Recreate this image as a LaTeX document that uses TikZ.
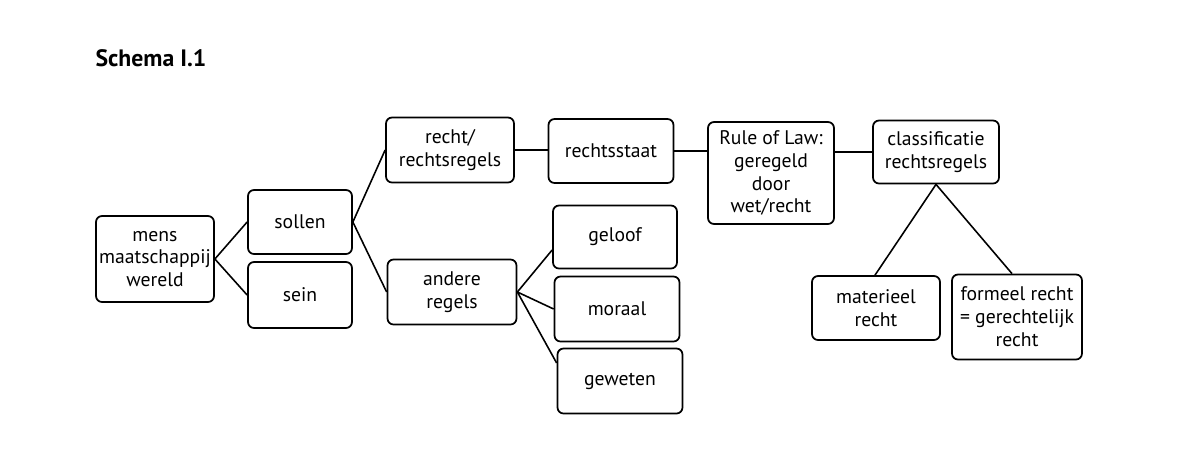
\documentclass[tikz,border=0pt]{standalone}
\usepackage{fontspec}
\setmainfont{PT Sans}
\usetikzlibrary{positioning}

\begin{document}
\begin{tikzpicture}[x=0.02cm, y=-0.02cm,
        box/.style={draw, rounded corners=0.12cm, line width=1pt, align=center, inner sep=1pt, font=\fontsize{11.2}{13}\selectfont},
        line/.style={line width=0.9pt}
    ]
    \useasboundingbox (0,0) rectangle (1200,451);
    \node[font=\bfseries\fontsize{13.5}{16}\selectfont] (title) at (151,58) {Schema I.1};

    \node[box, minimum width=2.36cm, minimum height=1.72cm] (mens) at (155,259) {mens\\maatschappij\\wereld};
    \node[box, minimum width=2.08cm, minimum height=1.28cm] (sollen) at (300,222) {sollen};
    \node[box, minimum width=2.08cm, minimum height=1.32cm] (sein) at (300,295) {sein};
    \node[box, minimum width=2.56cm, minimum height=1.3cm] (recht) at (450,150) {recht/\\rechtsregels};
    \node[box, minimum width=2.58cm, minimum height=1.3cm] (andere) at (452,292) {andere\\regels};
    \node[box, minimum width=2.5cm, minimum height=1.28cm] (staat) at (611,151) {rechtsstaat};
    \node[box, minimum width=2.48cm, minimum height=1.26cm] (geloof) at (615,237) {geloof};
    \node[box, minimum width=2.5cm, minimum height=1.3cm] (moraal) at (617,309) {moraal};
    \node[box, minimum width=2.5cm, minimum height=1.3cm] (geweten) at (620,381) {geweten};
    \node[box, minimum width=2.52cm, minimum height=2.04cm] (rol) at (771,173) {Rule of Law:\\geregeld\\door\\wet/recht};
    \node[box, minimum width=2.52cm, minimum height=1.26cm] (klass) at (936,152) {classificatie\\rechtsregels};
    \node[box, minimum width=2.56cm, minimum height=1.28cm] (materieel) at (876,308) {materieel\\recht};
    \node[box, minimum width=2.6cm, minimum height=1.7cm] (formeel) at (1017,317) {formeel recht\\= gerechtelijk\\recht};

    \draw[line] (mens.east) -- (sollen.west);
    \draw[line] (mens.east) -- (sein.west);
    \draw[line] (sollen.east) -- (recht.west);
    \draw[line] (sollen.east) -- (andere.west);
    \draw[line] (recht.east) -- (recht.east -| staat.west);
    \draw[line] (staat.east) -- (staat.east -| rol.west);
    \draw[line] (klass.west -| rol.east) -- (klass.west);
    \draw[line] (andere.east) -- ([yshift=-0.26cm]geloof.west);
    \draw[line] (andere.east) -- (moraal.west);
    \draw[line] (andere.east) -- ([yshift=0.36cm]geweten.west);
    \draw[line] (klass.south) -- ([xshift=-0.02cm]materieel.north);
    \draw[line] (klass.south) -- ([xshift=-0.1cm]formeel.north);
\end{tikzpicture}
\end{document}
